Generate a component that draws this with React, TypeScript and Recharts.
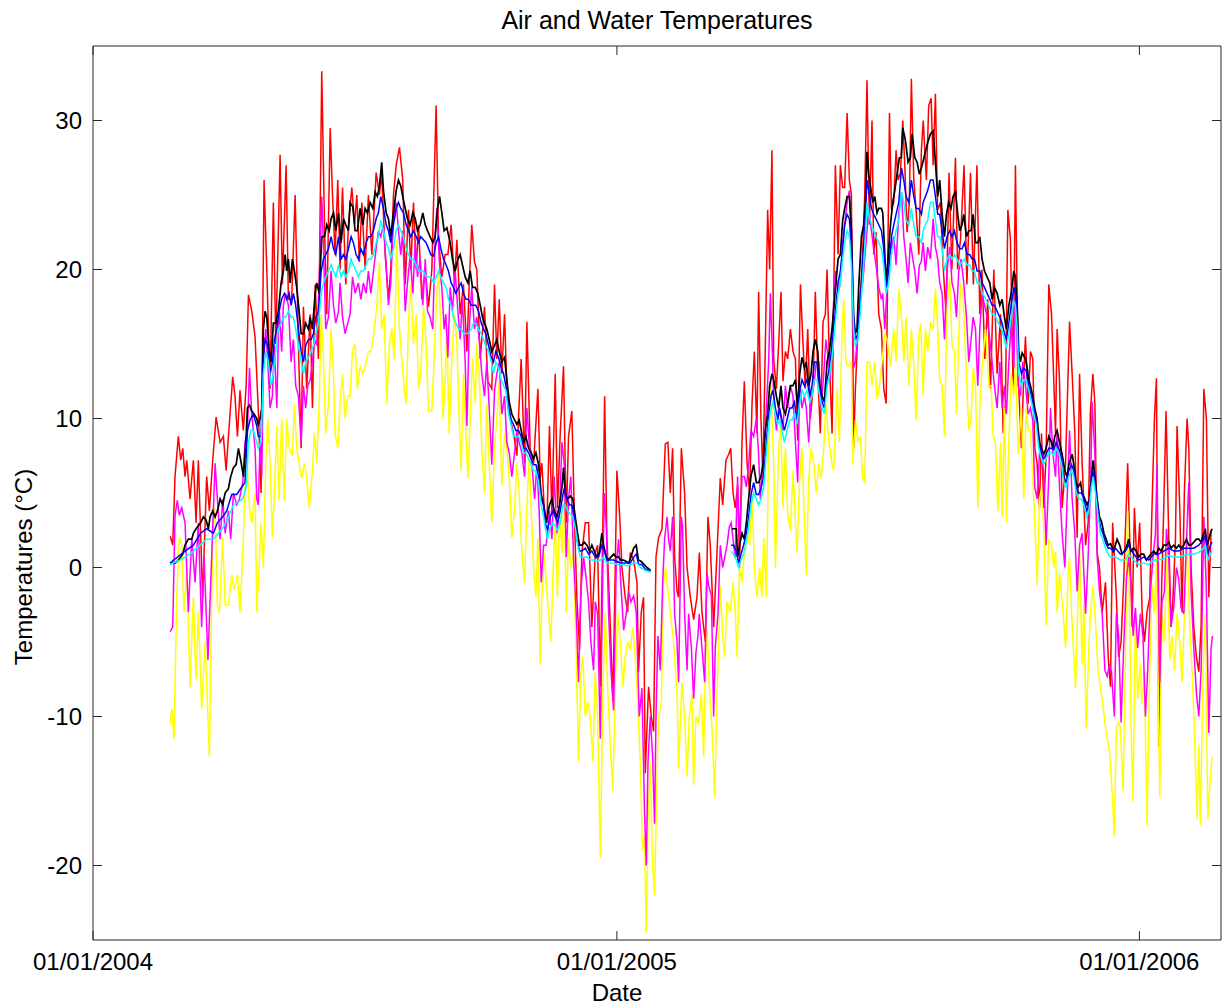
import React from 'react';
import { LineChart, Line, XAxis, YAxis } from 'recharts';

const xTickDays = [0, 366, 731];
const xTickLabels = ['01/01/2004', '01/01/2005', '01/01/2006'];
const yTicks = [-20, -10, 0, 10, 20, 30];

type P = [number, number | null];

const airMax: P[] = [[54,2.1],[55.7,1.5],[57.3,6.1],[59.6,8.8],[61.3,7.2],[62.7,8],[64.3,6.1],[65.5,7.2],[67.8,4.6],[70.1,7.2],[72,3],[73.6,7.2],[76.6,-2],[79.4,6.1],[81.3,3.8],[83.5,7],[86,10.1],[88.8,8.4],[91.1,8.8],[93,6.5],[94.6,8.8],[97.6,12.8],[99.2,11.5],[100.9,8.8],[102.7,11.9],[105,9.2],[107,12.2],[108.6,18.3],[110.9,17.2],[113.2,15.5],[115.5,10.5],[117.4,5],[119.5,26],[121.4,20],[123.7,12],[126,24.5],[127.7,15],[130.7,27.7],[132.3,19],[134.9,27],[136.5,18],[138.8,18],[141.2,25],[143.5,15],[145.4,8],[147,17.5],[149.3,12],[151.7,17],[153.3,10.7],[155.2,19],[157.5,14],[159.8,33.3],[161.7,23],[163.3,17],[165.7,29.5],[167.3,25],[169.1,21],[171,26],[172.6,20],[174.3,25.5],[176.6,19],[178.5,23],[180.8,25.5],[182.7,23],[184.3,25],[186.1,20.5],[187.8,24.5],[190.1,20],[192.4,25],[194.8,21],[197.8,26.5],[200.1,25],[201.7,26.5],[204.1,21],[206.4,18],[208,20],[209.9,25],[211.8,27],[214.1,28.2],[216.4,26],[218.1,19],[220.4,24],[222,20],[223.9,24.5],[225.8,20],[227.4,23],[229.7,18],[232.1,20],[234.4,17.5],[236.7,20],[239.7,31],[241.4,22],[243.7,19.5],[246,21],[247.9,21],[250.2,23],[252.5,19],[254.2,22],[256.5,17],[258.8,19],[261.2,14.5],[262.8,19],[264.6,23],[266.5,20.5],[268.1,20],[270.5,14],[273.5,17.5],[275.8,12.5],[278.6,12],[280.5,19],[282.1,14],[283.8,18],[285.6,13],[287.5,17],[289.1,12],[291.5,10],[293.8,9],[296.1,7.5],[299.1,14],[301.5,7],[303.1,16.5],[305.4,8],[307.8,7],[310.8,12],[312.4,6],[313.6,7],[315.2,4],[317.1,3],[318.9,9.5],[320.6,3.5],[322.9,13],[324.5,4],[326.4,9],[328.7,13.5],[330.6,3],[332.2,8.8],[334.5,10.5],[336.4,3],[338,-2],[339.9,-5.5],[341.5,1],[343.9,3],[346.2,3],[348.5,-4],[350.9,1],[352.5,1.5],[354.4,-8],[356.2,3],[357.4,11.5],[359,2],[361.4,-4],[363.2,-9],[366,6.5],[367.9,3.5],[369.5,0],[371.8,-2],[373.5,-3],[375.3,1],[377.7,0.5],[380,-1],[381.1,-7],[383,-3],[384.6,-2],[385.8,-13.8],[388.1,-8],[390,-10],[391.6,-11],[393.3,0.7],[395.1,2],[397.5,2.6],[399.8,8.3],[401.6,8.4],[403.3,5],[404.9,8],[406.3,0.7],[408,-1.6],[409.1,-2],[411,8],[413.3,5],[415,0],[417.3,-2],[419.6,-3.5],[421.9,-2],[423.6,1],[425.4,-3],[427.8,-5],[429.6,3.4],[431.2,1.5],[433.6,-4],[435.9,1],[438.2,6],[439.9,4.2],[442.2,7.2],[444.1,7.6],[445.5,8],[447.1,5],[448.7,4],[450.3,5.5],[451.7,0],[453.4,8.5],[455,12.5],[456.9,7],[458.7,5],[460.4,11],[462,14.5],[463.8,9],[465,18.5],[466.6,10],[468,6],[469.7,15],[471.3,24],[472.7,20],[474.3,28],[475.5,14],[477.4,12],[479,15],[480.6,18.5],[482,12.5],[483.7,14.5],[485.3,14],[487.2,16],[489,14.5],[490.7,14],[492.3,8.5],[494.2,19],[496,15],[497.6,12],[499.3,16],[501.1,10],[503,12],[504.6,18.5],[506.3,13],[508.1,9],[510,16.5],[511.6,17],[512.8,20],[514.4,14],[516.3,9],[518.6,27],[520.5,21],[522.1,27],[523.7,25.5],[525.1,25.5],[526.8,30.5],[528.4,26],[529.8,25],[531.4,8],[532.6,12],[534.9,17],[537.2,20],[539.1,25],[540.7,32.7],[542.4,23],[544.2,30],[545.4,21],[547,22.5],[548.9,17],[550.8,16],[552.4,12],[554.1,11],[556.4,30.5],[557.8,24],[559.4,24.5],[561,28],[562.4,26],[564.1,26.5],[565.7,30],[567.1,27],[568.7,22.5],[570.3,24.5],[571.7,32.8],[573.4,26],[575,24],[576.9,21],[578.7,28],[580,30],[582.2,26],[583.8,31],[585.5,31.5],[586.9,27],[588.5,31.8],[590,24],[592,24.5],[594,20],[596,17],[598,26.5],[600,20],[602.5,27.5],[604,20],[606,22],[608.5,27],[610.5,19],[613,26.5],[615,19],[617.5,27],[619.5,17],[621,20],[623,14],[625,18],[627,12],[629.3,20],[631.6,13],[634,17],[635.8,9],[637.4,11],[639.1,24],[640.9,22],[642.8,12],[644.4,27],[645.6,18],[646.7,12],[648.6,8],[650.2,13],[651.4,15.5],[653.3,11],[654.9,14.5],[656.5,14],[657.9,8],[659.5,7],[661.2,4],[662.6,9],[664.2,4],[665.8,7.5],[667.7,19],[669.6,17],[671.2,12.5],[672.4,9],[673.5,16],[675.2,12.5],[677,4],[679.4,7],[681.2,13],[682.2,16.5],[684,13],[685.9,9],[687.5,2],[689.2,13],[691,7],[693.4,1.5],[695.2,3],[696.8,10.5],[698.5,13],[699.9,11],[701.5,1],[703.1,0],[705,-3],[707.3,-1],[709.2,-6],[710.8,-8],[712.3,3],[714.9,-2],[716.5,-6],[718.2,-5],[720,-1],[722.8,7],[724.2,2],[725.9,-4],[727.5,4],[729.4,0],[731.2,3],[732.9,-3],[734.5,-5],[736.3,-3],[738.2,-2],[739.8,4],[741.5,10],[742.9,12.7],[744.5,-12],[746.1,-3],[748,4],[749.6,10.5],[751.5,2],[753.1,-4],[754.5,-2],[756.2,2],[757.3,9.5],[759.2,4],[760.8,-3],[762.4,5],[764.3,10],[765.5,8],[767.1,0],[769,-4],[770.8,-6],[772.5,-7],[774.1,-4],[776,12],[777.8,10],[779.5,-2],[781.1,2.5]];

const airMin: P[] = [[53.8,-10.5],[55,-9.5],[56.6,-11.5],[58.5,-2],[60.3,2],[62,1.5],[63.6,-3],[65.5,0],[67.8,-8],[70.1,-2],[72,-7.5],[73.6,-3],[75.9,-9.5],[78.3,-5],[81.3,-12.7],[83.6,2.5],[85.3,4],[86.9,-2.5],[88.3,-3],[90.6,2],[92.3,-2.5],[94.6,-2.5],[96.9,-0.5],[98.5,-1.5],[100.9,-0.5],[102.7,-3],[105.1,2],[107,8],[109.3,4],[110.9,3],[113.2,5],[114.4,-3],[116,0],[117.4,3],[119,0],[120.7,7],[122.1,10],[123.7,7],[125.3,2],[126.7,5],[128.4,9.5],[130,4.5],[131.8,10],[133.7,4.5],[135.3,10],[137.2,8],[139.3,7.5],[140.7,11],[142.3,8],[144,7],[145.8,6],[147.7,7],[149.3,6],[151,4],[153.3,6.5],[154.7,9],[156.3,7],[158,11],[159.4,17],[161,14],[162.6,9],[164.5,11],[166.3,16],[168,13],[169.1,9],[171,8],[172.6,11],[174.3,13],[176.1,10],[178,11.5],[179.6,11.5],[181.3,14.5],[183.1,15],[184.7,12],[186.6,13.5],[188.5,13],[190.1,13.5],[192.4,14.5],[194.1,14.5],[195.9,15.5],[198.2,17.5],[200.1,20.5],[201.7,16],[203.4,17],[205.2,11],[207.1,15],[208.7,16],[210.4,14],[212.2,22],[214.1,16],[215.7,14],[217.4,12],[218.8,11],[220.4,16.5],[222,19],[223.9,15],[225.8,17],[227.4,12],[229,13],[230.9,17.5],[232.7,15],[234.4,10.5],[236.7,10.5],[238.3,14],[239.7,17.5],[241.4,20],[243,16],[244.4,10],[246,12.5],[247.2,16],[248.8,9],[250.7,14],[252.5,17],[254.2,15],[255.8,10],[257.2,6.5],[258.8,13],[260.5,9],[261.9,6],[263.5,10],[265.1,14],[267,11],[268.1,15],[269.8,13],[271.6,8],[273.5,5],[275.1,11],[276.8,7],[278.6,3],[280.5,8],[282.1,10],[283.8,12.5],[285.6,5.5],[287.5,9],[289.1,8],[290.8,6],[292.6,2],[294.5,4],[296.1,7],[297.7,5],[299.6,1],[301.5,-1],[303.1,4],[304.7,7.5],[306.1,4],[307.8,0],[309.4,-2],[310.8,2],[312.4,-6.5],[313.6,-2],[315.2,1],[316.6,-1],[318.2,-3],[319.9,-5],[321.3,-0.5],[322.9,3],[324.5,-2],[325.9,4],[327.6,1],[329.2,5],[330.6,-3],[332.2,2],[333.8,0],[335.7,1],[337.6,-6],[339.2,-13],[340.8,-7],[342.2,-6],[343.9,-10],[345.5,-9],[347.4,-10],[349.2,-13],[350.9,-7],[352.5,-10],[354.4,-19.5],[356.2,-8],[357.9,-3],[359.5,-8],[361.4,-12],[363.2,-15],[364.8,-8],[366.5,-3],[368.3,-5],[370.2,-8],[371.8,-6],[373.5,-5],[375.3,-5.5],[377.2,-4],[378.8,-6],[380.5,-9],[382.3,-13],[383.9,-19],[385.3,-18],[386.5,-24.5],[387.7,-17],[389.3,-13],[390.9,-20],[392.3,-22],[394,-14],[395.1,-10],[397,-9],[398.6,-1],[400.2,0],[401,-1],[403.3,-3],[405.6,-5],[408,-8.5],[409.1,-13.5],[411.4,-7.7],[413.3,-10],[414.9,-14],[416.6,-10],[418.4,-8.5],[419.6,-14.6],[421.2,-10],[423.1,-10.5],[425,-8.5],[426.6,-12.7],[427.8,-6.5],[428.9,-3.9],[430.5,-7.7],[432.4,-10.8],[434.3,-15.4],[435.9,-8.8],[438.2,-1.2],[439.9,-4.6],[441.3,-6],[442.9,-2.3],[445.2,-3],[447.1,-1],[448.7,-3],[449.9,-6],[451.7,0],[453.4,-1],[455,1],[456.9,2.5],[458.7,1.5],[460.4,5],[462,0],[463.8,-2],[465.7,0],[467.3,-2],[468.5,2],[470.4,-2],[472,8],[473.6,12.5],[475.5,7],[476.7,0],[479,8],[480.6,9.5],[482,4],[483.7,8],[485.3,3.5],[487.2,2.5],[489,6.5],[490.7,3],[491.8,1],[493.7,6],[495.3,8],[497,3],[498.3,-0.5],[500,6],[501.6,8],[503.5,7],[505.3,5],[507,7],[508.6,6],[510.5,8],[512,11],[514,8.5],[516.3,6.9],[517.4,6.5],[519.8,12],[521.4,8.4],[523.3,16],[524.4,18],[526,13.8],[527.5,13.5],[529.8,13.8],[530.7,6.9],[532.6,9.9],[534.4,8.4],[536.1,8.8],[537.7,6],[539.1,5.7],[540.7,13.8],[542.4,13.8],[544.2,12.2],[546.1,13.8],[547.7,11.3],[549.4,12.2],[551.2,13.8],[553.1,15.7],[554.7,15.3],[557.1,13.5],[559.4,16],[561,13.8],[562.9,18.7],[564.8,16.8],[566.4,13.8],[568,16.8],[569.9,12.2],[571.7,16],[573.4,13.5],[575,9.9],[576.9,15.7],[578.3,16.4],[579.9,11.5],[581.5,16],[583.1,14.5],[585,16.4],[586.9,16],[588.5,18.7],[590.1,16],[591.5,12.6],[593.2,12.2],[594.8,8.8],[596.6,17.6],[598.5,19.5],[600.1,14.9],[601.8,14.5],[603.2,10.3],[604.8,15.3],[606,19.1],[607.8,18.4],[609.5,14.5],[611.8,9.2],[613.4,9.9],[614.8,13.4],[616.5,12.2],[618.1,4],[619.5,10.7],[621.1,13.4],[623.5,16],[625.8,12.2],[627.4,12.2],[628.8,8.8],[630.4,8.4],[632.1,3.8],[634,8.4],[635.1,3.4],[636.7,10.7],[638.1,3],[639.8,8.4],[641.4,13],[643.3,11.5],[644.4,13.8],[646.3,7.6],[647.2,8.8],[648.6,10.7],[650.2,4.6],[651.9,10.7],[653.3,9.2],[654.9,9.2],[657.2,4.6],[658.9,0.7],[659.6,-1.2],[661.2,4.6],[662.6,5.3],[664.2,2.7],[665.8,-3.9],[667.7,1.9],[669.6,1.5],[671.2,0],[672.4,1.1],[673.5,-3],[675.2,-0.4],[677.3,-2.5],[679.4,-5.4],[681.2,-0.4],[682.2,0.7],[683.6,-3],[686.4,-8.1],[688.2,-1.6],[689.2,1.5],[691,-6.5],[692.2,-2.3],[693.8,-10.8],[695.7,-5.4],[696.8,-3],[698.5,-1.2],[699.9,-3],[702.2,-7],[705.5,-9.2],[707.8,-11.1],[710.1,-12.3],[711.9,-15],[713.5,-18],[714.9,-10.8],[716.5,-10.4],[717.7,-10.8],[719.6,-15],[721.2,-6.2],[722.8,3.8],[724.2,-3.1],[725.2,-10.8],[726.5,-15.7],[728.2,-3.1],[729.8,-8.8],[731.7,-6.5],[732.8,-9.2],[734.5,-6.9],[736.3,-17.3],[738.2,-6.9],[739.8,-1.2],[741.5,-3.1],[742.9,0.7],[745.2,-15.4],[746.8,-3.1],[748.5,-5],[750.3,1.5],[752.2,-6.2],[753.8,-4.6],[755.5,-6.9],[757.3,-3.1],[759.2,-5],[760.8,-7.7],[762.5,-3.1],[764.3,2.3],[766.2,-3.9],[767.8,-6.9],[769.4,-10.8],[771.3,-16.9],[772.5,-11.9],[773.6,-17.3],[775.5,-6.9],[777.1,-3.1],[778.8,-16.9],[780.2,-14.6],[781.8,-12.7]];

const airMean: P[] = [[53.8,-4.3],[55.7,-4],[57.3,3.5],[58.9,4.5],[60.3,3.5],[62,4],[64.3,3],[66.6,-3],[69,2],[71.3,-1],[73.6,3],[75.9,-4],[77.6,0.7],[80.3,-6.2],[82.9,0.7],[85.3,7],[86.9,4.6],[88.8,1.9],[90.6,4.6],[92.3,2.3],[94.6,3.8],[96.2,1.9],[98.1,5],[100.4,4.2],[102.3,4.6],[104.6,5.7],[106.2,8.4],[107.9,9.2],[109.3,13.4],[110.9,10.3],[113.2,8],[114.4,4.6],[115.5,4.2],[116.7,8.4],[117.9,6.1],[119,13.8],[120.7,16],[122.1,13.8],[123.7,10.7],[125.3,11.5],[126.7,14.9],[128.4,10.7],[130,17.6],[131.8,14.5],[133,17.6],[134.6,18.4],[136.5,17.6],[138.4,13.8],[140,15.3],[141.6,12.2],[143.5,11.5],[145.4,8.4],[147,12.2],[148.6,10.7],[150,12.2],[151.7,12.6],[153.3,13.8],[154.7,15.3],[156.3,14.9],[158,19.1],[159.8,24.9],[161,21.5],[162.6,16],[164.5,16.8],[166.3,19.9],[168,17.6],[169.6,16.4],[171.5,17.2],[172.6,19.1],[174.3,16.8],[176.1,15.7],[178,16.4],[179.6,17],[181.3,19.5],[183.1,18.4],[185.4,19.1],[187.1,18],[188.9,19.1],[190.8,18.4],[192.4,19.9],[194.1,18.4],[195.9,19.9],[197.8,21.4],[199.4,22.6],[201,22.2],[202.9,23],[204.8,20.3],[206.4,17.6],[208,19.1],[209.9,23.4],[211.8,24.5],[213.4,22.6],[215,21],[216.4,22.6],[218.1,17.2],[219.7,19.1],[221.6,21],[223.4,18.4],[225.1,21.8],[226.7,19.5],[228.6,20.7],[230.4,17.6],[232.1,20.7],[233.7,17.2],[235.5,16.8],[237.4,16],[239,22.2],[240.2,24.1],[242.1,20.3],[243.7,18.8],[245.3,16],[246.5,17],[247.9,14.1],[249.5,18.8],[251.1,17.2],[253,19.9],[254.9,17.2],[256.5,15.3],[258.1,18],[260,13.8],[261.2,9.5],[262.8,16],[264.6,18.8],[266.5,16],[268.1,16.8],[269.8,15.3],[271.6,13],[273.5,11.5],[275.1,13.8],[276.8,10.7],[278.6,6.9],[280.5,11.9],[282.1,13],[283.8,13.8],[285.6,10.3],[287.5,11.5],[289.1,8.4],[290.8,7.7],[292.6,6.1],[294.5,7.7],[296.1,9.2],[297.7,8.4],[299.6,7.7],[301.5,6.1],[303.1,10.7],[304.7,8.4],[306.6,6.9],[308.5,4.6],[310.1,6.9],[311.7,3.8],[313.1,-1],[314.8,1.5],[316.6,1.5],[318.9,3.8],[320.6,1.9],[322.2,6.1],[324.1,2.3],[325.9,3.8],[327.6,8.4],[329.2,6.9],[330.6,0.7],[332.2,4.6],[333.8,6.1],[335.7,0.7],[337.6,-3.1],[339.2,-7.7],[340.8,-1.6],[342.7,0.7],[344.6,-0.8],[346.2,-2.3],[347.8,-5],[349.7,-6.9],[350.9,-2.3],[352.5,-3.1],[354.4,-11.5],[356.2,0],[357.2,5],[358.6,2.6],[360.2,-3.1],[361.8,-6.9],[363.7,-9.6],[365.5,0],[367.2,1.9],[368.8,-1.2],[370.7,-4.2],[372.5,-3.1],[374.2,-1.6],[375.8,-2.3],[377.7,-1.9],[379.5,-3],[381.6,-10],[383.5,-8.1],[385.3,-16.5],[386.5,-20],[387.7,-13.1],[389.3,-10],[390.9,-12.6],[392.3,-17.2],[393.3,-10],[394.6,-4.6],[396.3,-6.9],[397.9,-1.2],[399.3,1.9],[401,3.4],[402.1,1.9],[403.3,1.1],[404.9,3.4],[406.3,-3.1],[408,-5],[409.1,-7.7],[411,3.4],[411.9,2.7],[413.3,-3.1],[415,-6.9],[416.1,-3.1],[418,-5.4],[419.6,-8.8],[421.2,-5.7],[422.6,-4.6],[423.5,-3.1],[425.4,-5.4],[427.3,-7.7],[428.9,-0.4],[430.1,-1.2],[432,-1.9],[433.6,-10],[434.7,-5.4],[436.6,-3.1],[438.2,1.5],[439.9,0],[441.3,0.7],[442.9,1.5],[444.5,2.7],[445.8,3],[447.1,1.9],[448.7,0.7],[450.3,6.1],[451.7,1.5],[453.4,6.1],[455,6.1],[456.4,5.4],[458,6.9],[459.6,9.2],[461.5,8.8],[463.4,10],[465,7.6],[466.2,4.6],[467.3,6.1],[468.5,7.6],[470.4,10.7],[472,13.8],[473.2,18.4],[474.3,15.3],[475.5,11.5],[477.4,9.2],[479,10.7],[480.6,10],[482,9.2],[483.7,12.2],[485.3,10.7],[487.2,12.2],[489,11.5],[490.7,8.4],[492.3,5.7],[493.7,12.2],[495.3,10.7],[497,11.5],[498.3,10.7],[500,8.4],[501.6,11.5],[503.5,12.2],[505.3,13.8],[507,13.8],[508.6,10.7],[510.5,13],[512,15.3],[513.5,14.1],[515.1,12.6],[516.7,16.4],[518.6,19.9],[520.5,18.4],[522.1,19.1],[523.7,21.8],[525.1,23],[526.8,24.5],[528.4,25.3],[529.8,22.6],[531.4,13.4],[532.6,13.8],[534.4,16],[536.1,18.4],[537.7,19.1],[539.1,20.7],[540.7,22.6],[541.9,24.1],[543.8,22.6],[545.4,21.4],[547,20.3],[548.9,18.8],[550.8,18],[551.7,18.4],[553.1,16],[554.7,18.8],[556.4,21.8],[557.8,21.5],[559.4,22.2],[561,20.3],[562.9,23.8],[564.8,25.2],[566.4,22.2],[568,20.7],[569.4,19.1],[571,21.8],[572.7,20.7],[574.1,19.9],[575.7,18.4],[577.3,20.3],[578.6,20.5],[579.9,21.8],[581.5,19.9],[583.1,21.5],[585,20.7],[586.9,23.4],[588.5,21.5],[590.1,20.7],[591.5,19.1],[593.2,18.4],[594.8,15.3],[596.6,19.9],[598.5,21.5],[600.1,19.1],[601.8,18.4],[603.2,16.8],[604.8,19.9],[606.4,20.7],[608.3,19.1],[610.2,16.8],[611.8,13.8],[613.4,15.3],[614.8,16.8],[616.5,16],[618.1,12.2],[619.5,16],[621.1,18.4],[622.8,17.6],[624.6,16.8],[626.5,15.3],[628.1,13.8],[629.7,12.2],[631.6,10.7],[633.5,13.8],[635.1,10.7],[636.7,12.2],[638.1,10.3],[639.8,13.8],[641.4,16.4],[643.3,13.4],[644.4,19.1],[646.3,12.2],[647.9,11.5],[649.5,13.8],[651.4,12.2],[653.3,10.3],[654.9,10.7],[656.5,9.9],[657.9,5.4],[659.6,4.6],[661.2,7.7],[662.6,8.4],[664.2,6.1],[665.8,1.5],[667.7,6.1],[668.9,10.7],[670.5,7.7],[672.4,6.1],[673.5,9.2],[675.2,5.4],[677,2.3],[678.9,0],[680.5,4.6],[682.2,9.2],[684,4.6],[685.9,2.3],[687.5,-1.6],[689.2,1.5],[691,2.3],[693.4,-3.1],[695.2,0.7],[696.8,5.4],[698,11.1],[699.9,7.6],[701.5,0.7],[703.1,-1.6],[705,-3.1],[706.9,-6.9],[708.5,-7.3],[710.1,-6.5],[711.5,-7],[713.5,-10],[714.9,-3.1],[716.5,-4.6],[718.2,-10.4],[720,-5.4],[721.9,-0.8],[723.5,0.7],[725.2,-1.2],[726.6,-4.6],[728.2,-2.7],[729.8,-5.4],[731.7,-3.1],[733.5,-4.6],[735.2,-10],[736.8,-6.9],[738.7,-1.6],[740.5,0.7],[742.2,2.3],[743.3,6.9],[745.2,-7.7],[746.8,-2.3],[748.5,-1.6],[749.9,2.6],[751.5,0.7],[753.1,-3.9],[755,-2.7],[756.9,0],[758.5,-0.8],[760.1,-2.7],[762,-3.1],[763.8,1.5],[765.5,5.7],[767.1,-1.6],[769,-5.4],[770.8,-8.4],[772.5,-10],[774.1,-6.9],[776,3.4],[777.8,-1.6],[779.5,-11.1],[781.1,-5.4],[782,-4.6]];

const waterA: P[] = [[53.8,0.3],[57.3,0.3],[59.6,0.5],[61.3,0.7],[62.7,0.9],[64.3,1.5],[66.6,1.9],[69,1.9],[70.1,2.3],[72,2.6],[73.6,2.8],[75.2,3],[77.1,3.4],[79,3.2],[80.6,2.6],[81.8,3.4],[83.6,3.8],[85.3,3.4],[86.9,3.8],[88.8,4.6],[90.6,4.2],[92.3,5],[94.6,5.3],[96.2,6.1],[98.1,6.7],[100,6.9],[101.6,8],[103.2,7.2],[105.1,6.1],[107,8.8],[107.9,10.7],[109.3,10.9],[110.9,10.5],[112.5,10.3],[114.4,10],[115.5,9.5],[116.7,10],[117.9,10.7],[119,16],[120.2,17.2],[121.4,16.8],[123,14.5],[124.4,13.8],[126,16.4],[127.7,16.4],[129.5,17.2],[131.4,19.1],[133,19.9],[134.2,21],[135.3,19.9],[136.5,20.7],[137.7,19.1],[139.3,20.7],[140.7,19.9],[142.3,18.8],[144,17.2],[145.4,15.7],[147,15.7],[148.6,16.4],[150.5,16],[151.7,16.8],[153.3,16],[155.2,18.4],[156.3,19.1],[158,18.4],[159.8,22.2],[161.7,22.2],[163.3,23],[165,22.6],[166.3,23.4],[168,23.8],[169.6,22.6],[171.5,23.8],[173.3,21.8],[175,23.4],[176.6,23],[178.5,22.6],[179.6,24.5],[181.5,24.2],[183.1,22.6],[184.7,22.6],[186.6,24.1],[188.5,23],[190.1,24.1],[191.7,23.8],[193.6,24.5],[195.5,24.1],[197.1,25.2],[198.7,24.9],[200.1,25.6],[201.7,27.2],[202.9,25.3],[204.8,23.8],[206.4,23.4],[208,22.2],[209.9,23.8],[211.8,25.3],[213.4,26],[215,25.6],[216.4,24.9],[218.1,24.1],[219.7,23.4],[221.6,23],[223.4,23.8],[225.1,23.4],[226.7,22.6],[228.6,23],[230.4,23.8],[232.1,23],[233.7,22.6],[235.5,22.2],[237.4,21.8],[239,22.2],[240.7,24.1],[242.1,24.9],[243.7,23.8],[245.3,22.6],[247.2,22.8],[249.5,21.8],[251.1,20.7],[253,19.9],[254.9,20.7],[256.5,21],[258.1,20.3],[260,19.5],[261.9,19.1],[263.5,19.9],[265.1,18.8],[267,18.8],[268.8,18.4],[270.5,17.6],[272.1,16.8],[273.5,16.4],[275.1,16],[276.8,15.3],[278.6,14.5],[280.5,14.9],[282.1,15.3],[283.8,14.5],[285.6,13.8],[287.5,14.1],[289.1,12.6],[290.8,11.1],[292.6,10.3],[294.5,9.9],[296.1,9.6],[297.7,9.9],[299.1,9.2],[300.8,8.4],[302.4,8.8],[304.3,8],[306.1,7.7],[307.8,7.3],[309.4,7.7],[311.3,6.9],[313.1,4.9],[314.8,4.2],[316.6,3],[318.9,4.2],[320.6,4.6],[322.2,3.8],[324.1,3.4],[325.9,4.2],[327.6,5.4],[328.7,6.7],[329.9,5],[331.5,4.6],[333.4,4.8],[335.2,4.6],[336.9,3.4],[338.5,2.3],[339.9,1.5],[341.5,1.5],[343.2,1.7],[345,1.5],[346.9,1.1],[348.5,1.5],[350.2,1.1],[352,0.7],[353.9,1.1],[355.5,2.3],[356.7,1.5],[358.6,0.7],[360.2,0.5],[361.8,0.7],[363.7,0.9],[365.5,0.7],[367.2,0.7],[368.8,0.5],[370.7,0.5],[372.5,0.4],[374.2,0.3],[375.8,0.7],[377.7,1.3],[379.5,1.5],[381,0.5],[383,0.4],[385,0.2],[387,0],[389.5,-0.2],[418,null],[446.4,2.6],[447.5,2.6],[449.4,2.6],[450.3,0.7],[451.7,1.5],[453.4,2.3],[455,1.9],[456.4,3],[458,4.6],[459.6,6.1],[461.5,6.9],[463.4,5.7],[465,5.7],[466.6,6.1],[468,6.9],[469.7,9.2],[471.3,10.3],[472.7,12.2],[474.3,13],[475.5,12.6],[477.4,11.5],[479,10.7],[480.6,12.2],[482,10.7],[483.7,10.3],[485.3,11.1],[487.2,12.2],[489,12.2],[490.7,12.6],[492.3,10.7],[493.7,13],[495.3,14.1],[497,13.4],[498.3,13.8],[500,12.2],[501.6,13],[503,14.5],[504.6,15.3],[506.3,14.5],[507.7,12.2],[509.3,11.5],[510.9,11.1],[512.8,13.8],[514.4,14.5],[516.3,16],[518.6,18.7],[520.5,20.7],[522.1,21],[523.7,23.3],[525.1,24.1],[526.8,24.9],[528.4,24.9],[529.8,22.6],[531.4,16.8],[532.6,15.7],[533.7,16],[534.9,18.8],[536.8,22.2],[538.4,23],[539.6,24.5],[540.7,27.9],[541.9,26.4],[543.1,25.6],[544.7,24.5],[546.1,24.9],[547.7,23.8],[548.9,24.1],[550.8,24.1],[551.7,23.8],[553.1,21.1],[554,19.1],[555.4,20.7],[557.1,23],[558.7,24.5],[560.1,25.3],[561.7,26.4],[563.3,27.5],[564.7,27.5],[565.7,29.5],[567.5,28.7],[569.4,27.2],[571,27.5],[572.2,29.1],[574.1,27.5],[575.7,27.2],[577.3,26.4],[579.2,27],[581.5,27.9],[583.1,28.5],[585,29.1],[586.9,29.3],[588.5,27.2],[590.1,24.9],[591.5,26],[593.2,23.7],[594.8,22.2],[596.2,23.7],[597.8,24.5],[599.4,24.1],[600.8,24.9],[602.5,25.2],[604.1,23.7],[605.5,22.6],[607.1,23],[608.3,23.7],[610.2,22.2],[611.8,22.6],[613.4,22.6],[614.8,23.7],[616.5,21.8],[618.1,21.8],[619.5,22.2],[621.1,20.7],[622.8,19.9],[624.6,19.5],[626.5,19.1],[628.1,18],[629.7,18.8],[631.6,18.4],[633.5,17.6],[635.1,18],[636.7,16.8],[638.1,16],[639.8,17.6],[641.4,18.4],[643.3,19.9],[644.4,19.5],[645.6,17.6],[646.7,14.5],[647.9,13.8],[649.1,14.4],[650.2,14.2],[651.4,14],[652.6,13.4],[653.7,12.6],[654.9,12.2],[656.5,11.5],[657.9,10.7],[659.5,10],[661.2,8.4],[662.6,8],[664.2,7.6],[665.8,8],[667.7,8.8],[669.6,8.4],[670.5,8],[671.9,8.8],[673.5,9.2],[675.2,8.4],[677,7.6],[678.9,6.5],[680.5,6.1],[681.7,6.9],[682.9,7.3],[684,7.6],[685.2,6.9],[686.8,5.7],[688.2,5.4],[689.9,5.7],[691,5],[692.9,4.6],[694.5,4.2],[696.2,4.6],[697.5,6.1],[698.7,7.2],[699.9,6.1],[701.5,4.6],[703.1,3.4],[704.5,3.1],[706.2,2.3],[707.8,1.9],[709.2,1.5],[710.8,1.6],[713,1.1],[715.4,1.9],[717.2,1.5],[718.9,0.9],[720.5,1.1],[722.4,1.5],[723.5,1.9],[725.2,1.1],[727,1.3],[728.9,1.1],[730.5,0.7],[732.2,0.9],[734,0.9],[735.9,0.5],[737.5,0.7],[739.1,0.9],[741,1.1],[742.9,0.9],[744.5,1.3],[746.1,1.1],[748,1.5],[749.9,1.5],[751.5,1.7],[753.1,1.3],[755,1.5],[756.9,1.3],[758.5,1.5],[760.1,1.3],[762,1.5],[763.8,1.9],[765.5,1.5],[767.1,1.5],[769,1.7],[770.8,1.9],[772.5,1.9],[774.1,1.7],[776,2.3],[777.1,2.5],[778.3,1.5],[779.5,1.9],[780.6,2.3],[781.8,2.6]];

const waterB: P[] = [[53.8,0.3],[64.3,1.1],[70.1,1.5],[75.2,2.3],[79.4,2.6],[84.1,2.3],[86.9,3],[90.6,3.4],[93.4,3.8],[96.9,4.9],[100.4,4.9],[103.2,5.3],[106.2,5.7],[107.9,9.2],[109.7,9.9],[112,10.3],[114.4,9.5],[115.5,8.8],[117.4,8.8],[119,14.1],[120.2,15.3],[122.1,14.9],[123.7,13],[125.3,13.8],[126.7,15.3],[128.4,16],[130,17.2],[131.8,18],[133.7,18.4],[135.3,18],[137,18.4],[138.4,17.6],[140,18.4],[141.6,17.6],[143.5,16],[145.4,14.5],[147,13.8],[148.6,14.9],[150.5,15.3],[152.4,15.3],[154,15.7],[155.6,16.8],[157.5,17.2],[159.4,19.9],[161,20.7],[162.6,21],[164.5,21.4],[166.3,22.2],[168,21.4],[169.6,21],[171.5,22.2],[173.3,20.7],[175,21],[176.6,20.7],[178.5,21.4],[180.3,22.2],[181.9,21.8],[183.8,21],[185.4,20.7],[187.1,21.4],[188.9,21],[190.8,21.8],[192.4,22.2],[194.1,22.2],[195.9,22.6],[197.8,23.4],[199.4,23.8],[201,24.9],[202.9,24.1],[204.8,23],[206.4,22.6],[208,21.8],[209.9,23],[211.8,24.1],[213.4,24.5],[215,24.1],[216.9,23.8],[218.8,23],[220.4,22.6],[222,22.2],[223.9,22.6],[225.8,22.2],[227.4,21.8],[229,22.2],[230.9,22],[232.7,21.8],[234.4,21.4],[236,21],[238,20.9],[239.7,21.8],[241.4,22.2],[243,21.4],[244.9,20.7],[246.7,20.3],[248.3,19.9],[250.2,19.1],[251.8,18.8],[253.5,18.4],[255.3,18.8],[257.2,19.1],[258.8,18.4],[260.5,18],[262.3,18],[264.2,17.6],[265.8,17.6],[267.4,17.6],[269.3,17.2],[271.2,16.4],[272.8,16],[274.4,15.7],[276.3,14.9],[278.2,14.1],[279.8,13.8],[281.4,14.5],[283.3,14.1],[285.2,13.4],[286.8,13],[288.4,12.2],[290.3,10.7],[292.2,9.9],[293.8,9.6],[295.4,9.2],[297.3,9.2],[299.1,8.8],[300.8,8],[302.4,8],[304.3,7.7],[306.1,7.3],[307.8,6.9],[309.4,6.9],[311.3,6.1],[313.1,4.6],[314.8,4.2],[315.9,3],[317.5,2.5],[319.4,3.4],[321.3,3.8],[322.9,3.4],[324.5,3],[326.4,3.8],[328.3,4.9],[329.2,5.3],[331,4.6],[332.9,4.2],[334.5,4.2],[336.2,3.4],[338,1.9],[339.9,1.1],[341.5,1.1],[343.9,1.3],[346.2,0.9],[348.5,1.1],[350.9,0.7],[353.2,0.7],[355.5,1.5],[357.2,1.1],[359,0.5],[361.4,0.5],[363.7,0.5],[366,0.4],[368.3,0.3],[370.7,0.3],[373,0.3],[375.3,0.3],[377.7,0.7],[379.5,0.9],[381.1,0.2],[383.5,0.2],[385.8,-0.1],[388.1,-0.2],[389.5,-0.3],[418,null],[445.8,1.5],[447.5,1.5],[449.4,1.1],[451,0.3],[452.7,0.9],[454.5,1.5],[456.4,2.3],[458,3.4],[459.7,4.9],[461.5,5.7],[463.4,4.9],[465,4.9],[466.6,5.3],[468.5,6.1],[470.4,8.4],[472,10.3],[473.6,11.5],[475,11.9],[476.7,10.7],[478.3,9.9],[479.7,10.7],[481.3,9.9],[483,9.2],[484.8,9.9],[486.7,10.7],[488.3,10.7],[490,11.1],[491.8,9.9],[493.7,11.9],[495.3,12.6],[497,12.2],[498.8,12.6],[500.7,11.5],[502.3,12.2],[503.9,13.8],[505.8,13.8],[507.7,11.9],[509.3,11.1],[510.9,10.7],[512.8,12.6],[514.4,13.4],[516.7,15.3],[518.6,17.2],[520.5,19.1],[522.1,19.9],[523.7,21.4],[525.1,23],[526.8,23.7],[528.4,23.4],[529.8,21.4],[531.4,16.5],[532.6,15.3],[534.4,15.7],[536.1,18],[537.7,20.7],[539.1,22.6],[540.7,26],[541.9,25.3],[543.8,24.1],[545.4,23.7],[547,23.4],[548.9,23],[550.8,22.6],[552.4,21.4],[554,18.8],[555.9,19.9],[557.8,22.2],[559.4,23],[561,23.7],[562.9,24.5],[564.8,26.8],[566.4,26],[568,24.9],[569.9,24.5],[571.7,26],[573.4,24.9],[575,24.1],[576.9,24.1],[578.7,23.7],[579.9,24.5],[581.5,24.9],[583.1,25.3],[585,26],[586.9,26],[588.5,24.9],[590.1,23.7],[591.5,23.7],[593.2,22.6],[594.8,21.4],[596.6,22.2],[598.5,22.6],[600.1,22.2],[601.8,22.6],[603.6,21.8],[605.5,21.4],[607.1,21.4],[608.8,21.8],[610.6,21],[612.5,21],[614.1,20.7],[615.8,20.7],[617.6,19.9],[619.5,19.9],[621.1,19.1],[622.8,18.8],[624.6,18.4],[626.5,18],[628.1,17.6],[629.7,17.6],[631.6,17.2],[633.5,16.8],[635.1,16.4],[636.7,15.7],[638.1,15.3],[639.8,16.4],[641.4,17.6],[643.3,18.8],[644.4,18.4],[645.6,16.9],[646.7,13.8],[648.6,13],[650.2,13.4],[651.9,13.2],[653.7,12.2],[655.6,11.5],[657.2,10.7],[658.9,9.9],[660.7,8.4],[662.6,7.6],[664.2,7.3],[665.8,7.6],[667.7,8],[669.6,8],[671.2,7.9],[672.8,8.4],[674.7,8],[676.6,7.3],[678.2,6.1],[679.8,5.7],[681.7,6.5],[683.6,6.9],[685.2,6.5],[686.8,5.4],[688.7,5],[690.6,5],[692.2,4.6],[694.2,3.8],[695.7,4.2],[697.5,5.7],[698.7,6.5],[700.3,5.4],[702.2,3.8],[703.8,2.7],[705.5,2.3],[707.3,1.7],[709.2,1.3],[710.8,1.3],[712.5,1.1],[714.2,1.3],[717.7,0.9],[721.2,1.1],[723.5,1.5],[727,0.9],[730.5,0.5],[734,0.7],[737.5,0.5],[741,0.9],[744.5,0.9],[748,1.1],[751.5,1.3],[755,1.1],[758.5,1.1],[762,1.3],[765.5,1.3],[769,1.3],[772.5,1.5],[776,1.9],[777.1,2.1],[778.8,0.9],[780.6,1.5],[781.8,1.7]];

const waterC: P[] = [[53.8,0.2],[60.8,0.5],[67.8,0.9],[74.8,1.5],[79.4,1.9],[84.1,1.9],[87.6,2.3],[91.1,2.7],[94.6,3.4],[98.1,4.2],[101.6,4.4],[104.6,4.6],[107,5.4],[108.6,8.4],[110.2,9.2],[112,9.2],[114.4,8.4],[115.5,8],[117.4,8.4],[119,13],[120.7,14.5],[122.5,13.8],[124.4,12.2],[126,13],[127.7,14.5],[129.5,16],[131.4,16.4],[133,16.8],[134.6,16.8],[136.5,17.2],[138.4,16.8],[140,16.8],[141.6,16],[143.5,14.9],[145.4,13.8],[147,13],[148.6,13.8],[150.5,14.1],[152.4,14.5],[154,14.9],[155.6,15.7],[157.5,16.4],[159.4,18.4],[161,19.1],[162.6,19.5],[164.5,19.9],[166.3,20.3],[168,19.9],[169.6,19.5],[171.5,20.3],[173.3,19.5],[175,19.9],[176.6,19.5],[178.5,19.9],[180.3,20.7],[181.9,20.3],[183.8,19.9],[185.4,19.5],[187.1,19.9],[188.9,19.9],[190.8,20.3],[192.4,20.7],[194.1,20.7],[195.9,21],[197.8,21.8],[199.4,22.2],[201,23.3],[202.9,22.6],[204.8,21.8],[206.4,21.4],[208,20.7],[209.9,21.4],[211.8,22.6],[213.4,23],[215,22.6],[216.9,22.2],[218.8,21.4],[220.4,21],[222,20.7],[223.9,20.7],[225.8,20.3],[227.4,19.9],[229,19.9],[230.9,19.9],[232.7,19.5],[234.4,19.5],[236,19.5],[237.9,19.1],[239.7,19.5],[241.4,19.9],[243,19.5],[244.9,19.1],[246.7,18.8],[248.3,18],[250.2,17.6],[251.8,16.8],[253.5,16.4],[255.3,16],[257.2,16],[258.8,15.7],[260.5,15.7],[262.3,15.7],[264.2,16],[265.8,16.4],[267.4,16.4],[269.3,16],[271.2,15.7],[272.8,15.3],[274.4,14.9],[276.3,14.5],[278.2,13.8],[279.8,13],[281.4,13.8],[283.3,13.4],[285.2,12.6],[286.8,12.2],[288.4,11.9],[290.3,10.3],[292.2,9.5],[293.8,8.8],[295.4,8.8],[297.3,8.8],[299.1,8.4],[300.8,7.7],[302.4,7.7],[304.3,7.3],[306.1,6.9],[307.8,6.5],[309.4,6.5],[311.3,5.7],[313.1,4.2],[314.8,3.4],[315.9,2.7],[317.5,1.9],[319.4,2.7],[321.3,3],[322.9,2.8],[324.5,2.5],[326.4,3],[328.3,4.2],[329.9,4.2],[331.5,3.8],[333.4,3.6],[335.2,3.4],[336.9,2.7],[338.5,1.5],[340.4,0.7],[342.7,0.7],[345,0.7],[347.4,0.5],[349.7,0.5],[352,0.4],[354.4,0.5],[356.7,0.7],[359,0.3],[361.4,0.3],[363.7,0.3],[366,0.2],[368.3,0.2],[370.7,0.2],[373,0.1],[375.3,0.2],[377.7,0.3],[380,0.3],[382.3,0],[385.8,-0.2],[389.5,-0.3],[418,null],[445.8,1.1],[447.5,0.9],[449.4,0.5],[451,0],[452.7,0.5],[454.5,0.9],[456.4,1.7],[458,2.7],[459.7,4.2],[461.5,5],[463.4,4.6],[465,4.2],[466.6,4.6],[468.5,5.4],[470.4,7.7],[472,9.6],[473.6,10.7],[475,11.1],[476.7,10.3],[478.3,9.6],[479.7,9.9],[481.3,9.2],[483,8.4],[484.8,9.2],[486.7,9.9],[488.3,9.9],[490,10.3],[491.8,9.6],[493.7,11.1],[495.3,11.9],[497,11.5],[498.8,11.9],[500.7,11.1],[502.3,11.5],[503.9,12.6],[505.8,12.6],[507.7,11.5],[509.3,10.7],[510.9,10.3],[512.8,12.2],[514.4,12.8],[516.7,14.5],[518.6,16.5],[520.5,18.4],[522.1,19.1],[523.7,20.7],[525.1,21.8],[526.8,22.6],[528.4,22.2],[529.8,20.3],[531.4,16],[532.6,14.9],[534.4,15.3],[536.1,17.2],[537.7,19.5],[539.1,21.4],[540.7,24.5],[541.9,23.7],[543.8,23],[545.4,22.6],[547,22.2],[548.9,21.8],[550.8,21.4],[552.4,20.3],[554,18.4],[555.9,19.1],[557.8,21],[559.4,21.8],[561,22.6],[562.9,23.3],[564.8,25.2],[566.4,24.5],[568,23.3],[569.9,23],[571.7,24.1],[573.4,23],[575,22.2],[576.9,22.2],[578.7,21.8],[579.9,22.6],[581.5,23],[583.1,23.3],[585,24.5],[586.9,24.5],[588.5,23.3],[590.1,22.2],[591.5,22.2],[593.2,21.4],[594.8,19.9],[596.6,20.7],[598.5,21],[600.1,20.7],[601.8,21],[603.6,20.7],[605.5,20.3],[607.1,20.5],[608.8,20.7],[610.6,20.3],[612.5,20.3],[614.1,19.9],[615.8,19.9],[617.6,19.1],[619.5,19.1],[621.1,18.4],[622.8,18.2],[624.6,17.8],[626.5,17.4],[628.1,17],[629.7,17],[631.6,16.6],[633.5,16.2],[635.1,15.9],[636.7,15.3],[638.1,14.7],[639.8,15.7],[641.4,16.8],[643.3,17.9],[644.4,17.6],[645.6,16],[646.7,13],[648.6,12.2],[650.2,12.6],[651.9,12.6],[653.7,11.9],[655.6,11.1],[657.2,10.3],[658.9,9.6],[660.7,8],[662.6,7.3],[664.2,6.9],[665.8,7.3],[667.7,7.7],[669.6,7.7],[671.2,7.5],[672.8,8],[674.7,7.7],[676.6,6.9],[678.2,5.7],[679.8,5.4],[681.7,6.1],[683.6,6.5],[685.2,6.1],[686.8,5],[688.7,4.6],[690.6,4.6],[692.2,4.2],[694.2,3.4],[695.7,3.8],[697.5,5.4],[698.7,6.1],[700.3,5],[702.2,3.4],[703.8,2.3],[705.5,1.9],[707.3,1.3],[709.2,0.9],[710.8,0.7],[712.5,0.7],[714.2,0.7],[717.7,0.5],[721.2,0.5],[723.5,0.9],[727,0.5],[730.5,0.2],[734,0.3],[737.5,0.2],[741,0.5],[744.5,0.5],[748,0.6],[751.5,0.8],[755,0.7],[758.5,0.7],[762,0.8],[765.5,0.9],[769,0.9],[772.5,1],[776,1.3],[777.1,1.5],[778.8,0.5],[780.6,0.9],[781.8,1.1]];

const rows = (pairs: P[]) => pairs.map(([day, v]) => ({ day, v }));

const FONT = '"Liberation Sans", Arial, Helvetica, sans-serif';
const AXIS = '#262626';

const EmptyTick = () => <g />;

const series = [
  { key: 'airMax', data: airMax, color: '#ff0000', w: 1.5 },
  { key: 'airMin', data: airMin, color: '#ffff00', w: 1.5 },
  { key: 'airMean', data: airMean, color: '#ff00ff', w: 1.5 },
  { key: 'waterA', data: waterA, color: '#000000', w: 1.7 },
  { key: 'waterB', data: waterB, color: '#0000ff', w: 1.5 },
  { key: 'waterC', data: waterC, color: '#00ffff', w: 1.5 },
];

export default function App() {
  const fmtX = (d: number) => xTickLabels[xTickDays.indexOf(d)] ?? '';
  return (
    <div style={{ position: 'absolute', left: 0, top: 0, width: 1230, height: 1008, background: '#fff', fontFamily: FONT }}>
      <LineChart width={1230} height={1008} margin={{ top: 0, right: 0, bottom: 0, left: 0 }}>
        <XAxis xAxisId="b" dataKey="day" type="number" domain={[0, 788]} allowDataOverflow ticks={xTickDays} interval={0}
          tickFormatter={fmtX} orientation="bottom" height={68} tickSize={-9} tickMargin={22}
          stroke={AXIS} tick={{ fill: '#000', fontSize: 24, fontFamily: FONT }} />
        <XAxis xAxisId="t" dataKey="day" type="number" domain={[0, 788]} allowDataOverflow ticks={xTickDays} interval={0}
          orientation="top" height={46} tickSize={-9} stroke={AXIS} tick={EmptyTick} />
        <YAxis yAxisId="l" type="number" domain={[-25, 35]} allowDataOverflow ticks={yTicks} interval={0}
          width={93} tickSize={-9} tickMargin={20} stroke={AXIS} tick={{ fill: '#000', fontSize: 24, fontFamily: FONT }} />
        <YAxis yAxisId="r" orientation="right" type="number" domain={[-25, 35]} allowDataOverflow ticks={yTicks} interval={0}
          width={9} tickSize={-9} stroke={AXIS} tick={EmptyTick} />
        {series.map((s) => (
          <Line key={s.key} xAxisId="b" yAxisId="l" data={rows(s.data)} dataKey="v" name={s.key} type="linear"
            stroke={s.color} strokeWidth={s.w} dot={false} activeDot={false} isAnimationActive={false} connectNulls={false} />
        ))}
      </LineChart>
      <div style={{ position: 'absolute', left: 657, top: 20, transform: 'translate(-50%, -50%)', fontSize: 25, whiteSpace: 'nowrap', color: '#000' }}>
        Air and Water Temperatures
      </div>
      <div style={{ position: 'absolute', left: 617, top: 993, transform: 'translate(-50%, -50%)', fontSize: 24, whiteSpace: 'nowrap', color: '#000' }}>
        Date
      </div>
      <div style={{ position: 'absolute', left: 24, top: 567, transform: 'translate(-50%, -50%) rotate(-90deg)', fontSize: 24, whiteSpace: 'nowrap', color: '#000' }}>
        Temperatures (°C)
      </div>
    </div>
  );
}
